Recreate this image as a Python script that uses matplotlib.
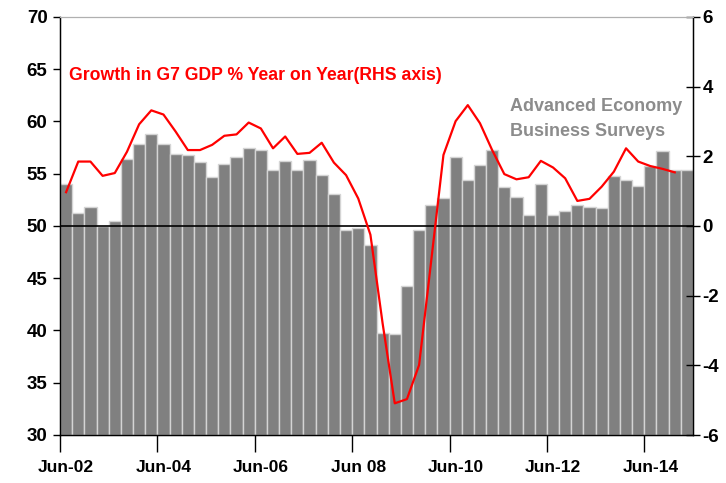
import matplotlib
matplotlib.use("Agg")
import matplotlib.pyplot as plt
import numpy as np

# Advanced economy business surveys (LHS), quarterly from Jun-02
surveys = [54.0, 51.2, 51.8, 50.0, 50.5, 56.4, 57.8, 58.8, 57.8, 56.9,
           56.8, 56.1, 54.7, 55.9, 56.6, 57.5, 57.3, 55.4, 56.2, 55.4,
           56.3, 54.9, 53.1, 49.6, 49.8, 48.2, 39.8, 39.7, 44.3, 49.6,
           52.0, 52.7, 56.6, 54.4, 55.8, 57.3, 53.7, 52.8, 51.1, 54.0,
           51.1, 51.4, 52.0, 51.8, 51.7, 54.8, 54.4, 53.8, 55.7, 57.2,
           55.4, 55.4]

# G7 GDP growth % y/y (RHS)
gdp = [0.97, 1.85, 1.85, 1.44, 1.52, 2.13, 2.92, 3.32, 3.20, 2.71,
       2.18, 2.18, 2.33, 2.59, 2.63, 2.97, 2.80, 2.23, 2.57, 2.07,
       2.10, 2.39, 1.82, 1.46, 0.79, -0.25, -2.79, -5.09, -4.97, -3.99,
       -0.98, 2.04, 3.01, 3.47, 2.95, 2.18, 1.49, 1.34, 1.40, 1.87,
       1.68, 1.37, 0.72, 0.78, 1.13, 1.56, 2.23, 1.85, 1.72, 1.64,
       1.54]

tick_labels = ["Jun-02", "Jun-04", "Jun-06", "Jun 08", "Jun-10", "Jun-12", "Jun-14"]

plt.rcParams["font.family"] = ["Liberation Sans", "DejaVu Sans"]
plt.rcParams["font.weight"] = "bold"
plt.rcParams["axes.unicode_minus"] = False

fig = plt.figure(figsize=(7.26, 4.83), dpi=100)
ax = fig.add_axes([60 / 726, 1 - 435 / 483, 633 / 726, 418 / 483])

x = np.arange(len(surveys)) + 0.5
ax.bar(x, np.array(surveys) - 30, bottom=30, width=1.0,
       color="#808080", edgecolor="#d4d4d4", linewidth=1.0, zorder=2)
ax.axhline(50, color="black", linewidth=1.2, zorder=3)

ax.set_xlim(0, len(surveys))
ax.set_ylim(30, 70)
ax.set_yticks(np.arange(30, 71, 5))
ax.tick_params(axis="y", direction="out", length=5, width=1, labelsize=13.5, pad=4)

# tick marks between groups, labels under first bar of each 2-year group
ax.set_xticks(np.arange(0, len(surveys), 8), minor=True)
ax.set_xticks(np.arange(0, len(surveys), 8) + 0.5)
ax.set_xticklabels(tick_labels)
ax.tick_params(axis="x", which="minor", direction="out", length=12, width=1)
ax.tick_params(axis="x", which="major", length=0, labelsize=12.5, pad=18)

for side in ["left", "bottom", "right"]:
    ax.spines[side].set_linewidth(1.0)
ax.spines["top"].set_color("#b0b0b0")

ax2 = ax.twinx()
ax2.plot(x[:len(gdp)], gdp, color="#ff0000", linewidth=1.6, zorder=4)
ax2.set_ylim(-6, 6)
ax2.set_yticks(np.arange(-6, 7, 2))
ax2.tick_params(axis="y", direction="inout", length=10, width=1, labelsize=13.5, pad=2)
ax2.spines["top"].set_color("#b0b0b0")

ax.text(69, 407, "Growth in G7 GDP % Year on Year(RHS axis)", transform=None,
        color="#ff0000", fontsize=12.7, fontweight="bold", va="center", ha="left")
fig.text(510 / 726, 1 - 119 / 483, "Advanced Economy\nBusiness Surveys",
         color="#8c8c8c", fontsize=13, fontweight="bold", va="center", ha="left",
         linespacing=1.6)

fig.savefig("out.png", dpi=100)
